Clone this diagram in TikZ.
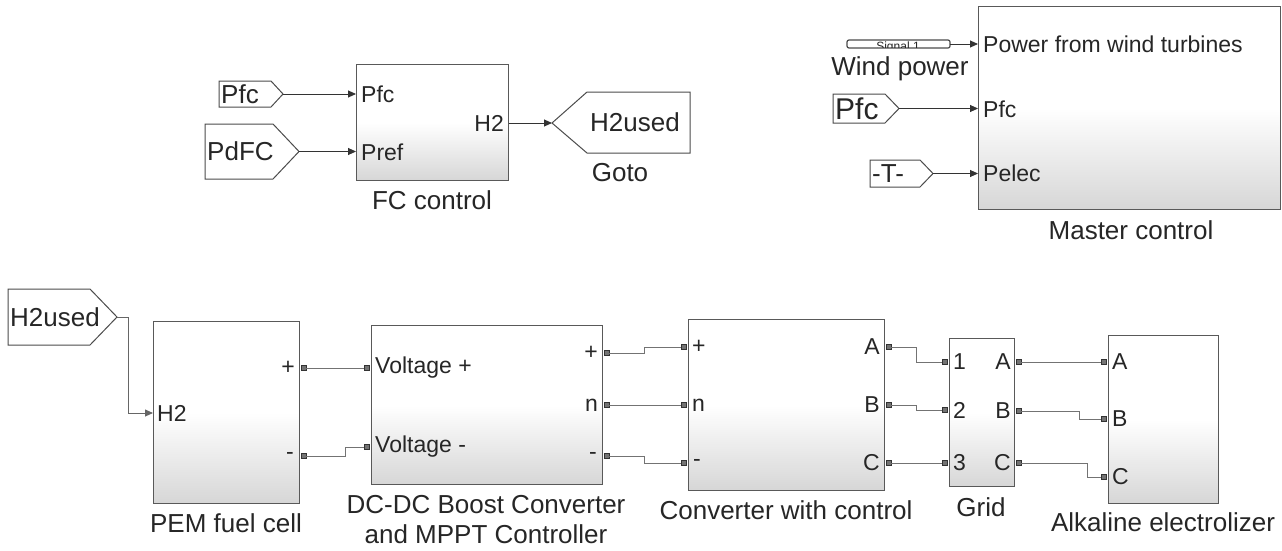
\documentclass[tikz,border=0pt]{standalone}
\usepackage{fontspec}
\setmainfont{Liberation Sans}
\usetikzlibrary{arrows.meta,calc}
\newcommand\fs[1]{\fontsize{#1}{#1}\selectfont}
% right-pointing tag: name, x1, y1, x2(tip), y2, depth, text, fontsize
\newcommand\rtag[8]{%
  \draw[tagline] (#2,#3) -- ({#4-#6},#3) -- (#4,{(#3+#5)/2}) -- ({#4-#6},#5) -- (#2,#5) -- cycle;
  \coordinate (#1) at (#4,{(#3+#5)/2});
  \node[txt,anchor=west,font=\fs{#8}] (#1t) at ({#2+1},{(#3+#5)/2}) {#7};
}
\tikzset{
  x=1pt, y=-1pt,
  txt/.style={inner sep=1pt, text=black!85},
  blk/.style={draw=black!65, line width=1.4pt, top color=white, bottom color=black!16,
              middle color=white, inner sep=0pt, anchor=north west},
  tagline/.style={draw=black!70, line width=1pt, fill=white},
  plbl/.style={txt, font=\fs{23}},
  nm/.style={txt, font=\fs{26}},
  sigline/.style={draw=black!80, line width=0.9pt, -{Triangle[length=8pt,width=7pt]}},
  phys/.style={draw=black!55, line width=1pt},
  port/.style={draw=black!80, fill=black!55, line width=0.8pt, minimum size=5pt, inner sep=0pt, rectangle},
}
\begin{document}
\begin{tikzpicture}
\useasboundingbox (0,0) rectangle (1282,550);
\fill[white] (0,0) rectangle (1282,550);

% ---------------- FC control ----------------
\node[blk, minimum width=152pt, minimum height=116pt] (fc) at (356,64) {};
\node[plbl,anchor=west] (fcpfc) at (360,94) {Pfc};
\node[plbl,anchor=west] (fcpref) at (360,152) {Pref};
\node[plbl,anchor=east] (fch2) at (505,123) {H2};
\node[nm] (fcname) at (432,200) {FC control};

\rtag{tpfc}{219}{81}{283}{107}{12}{Pfc}{26}
\rtag{tpdfc}{205}{124}{299}{179}{26}{PdFC}{26}

% Goto (left pointing)
\draw[tagline] (552,123) -- (587,92) -- (690,92) -- (690,153) -- (587,153) -- cycle;
\coordinate (goto) at (552,123);
\node[txt,anchor=west,font=\fs{26}] (gototxt) at (589,122) {H2used};
\node[nm] (gotoname) at (620,173) {Goto};

\draw[sigline] (tpfc) -- (fc.west |- tpfc);
\draw[sigline] (tpdfc) -- (fc.west |- tpdfc);
\draw[sigline] (fc.east |- goto) -- (goto);

% ---------------- Master control ----------------
\node[blk, minimum width=302pt, minimum height=203pt] (mc) at (978,6) {};
\node[plbl,anchor=west] (mcw) at (982,44) {Power from wind turbines};
\node[plbl,anchor=west] (mcpfc) at (982,109) {Pfc};
\node[plbl,anchor=west] (mcpel) at (982,173) {Pelec};
\node[nm] (mcname) at (1131,230) {Master control};

% squashed signal builder block
\draw[draw=black!70, line width=1.2pt, fill=white, rounded corners=2pt] (847,40) rectangle (950,48);
\begin{scope}
  \clip (849,41) rectangle (948,47);
  \node[inner sep=0pt, text=black!85, font=\fs{12}] (sigtxt) at (898,44)
    {\smash{\raisebox{-6pt}{\underline{Signal 1}}}};
\end{scope}
\coordinate (sigout) at (950,44);
\node[nm] (windname) at (900,69) {Wind power};

\rtag{tpfc2}{833}{94}{899}{123}{14}{Pfc}{30}
\rtag{tT}{870}{160}{933}{187}{13}{-T-}{26}

\draw[sigline] (sigout) -- (mc.west |- sigout);
\draw[sigline] (tpfc2) -- (mc.west |- tpfc2);
\draw[sigline] (tT) -- (mc.west |- tT);

% ---------------- bottom row ----------------
\rtag{th2}{8}{289}{117}{345}{27}{H2used}{26}

\node[blk, minimum width=146pt, minimum height=182pt] (pem) at (153,321) {};
\node[plbl,anchor=west] (pemh2) at (156,413) {H2};
\node[plbl,anchor=east] (pemplus) at (296,368) {+};
\node[plbl,anchor=east] (pemminus) at (295,456) {-};
\node[nm] (pemname) at (226,523) {PEM fuel cell};

\node[blk, minimum width=231pt, minimum height=159pt] (dc) at (371,325) {};
\node[plbl,anchor=west] (dcvp) at (374,368) {Voltage +};
\node[plbl,anchor=west] (dcvn) at (374,447) {Voltage -};
\node[plbl,anchor=east] (dcop) at (599,353) {+};
\node[plbl,anchor=east] (dcon) at (599,405) {n};
\node[plbl,anchor=east] (dcom) at (598,456) {-};
\node[nm] (dcname1) at (486,505) {DC-DC Boost Converter};
\node[nm] (dcname2) at (486,534) {and MPPT Controller};

\node[blk, minimum width=196pt, minimum height=171pt] (cv) at (688,319) {};
\node[plbl,anchor=west] (cvip) at (691,347) {+};
\node[plbl,anchor=west] (cvin) at (691,405) {n};
\node[plbl,anchor=west] (cvim) at (692,463) {-};
\node[plbl,anchor=east] (cva) at (881,347) {A};
\node[plbl,anchor=east] (cvb) at (881,405) {B};
\node[plbl,anchor=east] (cvc) at (881,463) {C};
\node[nm] (cvname) at (786,510) {Converter with control};

\node[blk, minimum width=65pt, minimum height=148pt] (gr) at (949,338) {};
\node[plbl,anchor=west] (gr1) at (952,362) {1};
\node[plbl,anchor=west] (gr2) at (952,410) {2};
\node[plbl,anchor=west] (gr3) at (952,463) {3};
\node[plbl,anchor=east] (gra) at (1012,362) {A};
\node[plbl,anchor=east] (grb) at (1012,411) {B};
\node[plbl,anchor=east] (grc) at (1012,463) {C};
\node[nm] (grname) at (981,507) {Grid};

\node[blk, minimum width=110pt, minimum height=168pt] (el) at (1108,335) {};
\node[plbl,anchor=west] (ela) at (1111,362) {A};
\node[plbl,anchor=west] (elb) at (1111,419) {B};
\node[plbl,anchor=west] (elc) at (1111,477) {C};
\node[nm] (elname) at (1163,522) {Alkaline electrolizer};

% H2used -> PEM
\draw[sigline, draw=black!60] (th2) -- ++(11,0) |- (pem.west |- pemh2);

% physical ports
\node[port] (pP) at (303.5,368) {};
\node[port] (pN) at (303.5,456) {};
\node[port] (dVP) at (366.5,368) {};
\node[port] (dVN) at (366.5,447) {};
\node[port] (dP) at (606.5,353) {};
\node[port] (dN) at (606.5,405) {};
\node[port] (dM) at (606.5,456) {};
\node[port] (cIP) at (683.5,347) {};
\node[port] (cIN) at (683.5,405) {};
\node[port] (cIM) at (683.5,463) {};
\node[port] (cA) at (888.5,347) {};
\node[port] (cB) at (888.5,405) {};
\node[port] (cC) at (888.5,463) {};
\node[port] (g1) at (944.5,362) {};
\node[port] (g2) at (944.5,410) {};
\node[port] (g3) at (944.5,463) {};
\node[port] (gA) at (1018.5,362) {};
\node[port] (gB) at (1018.5,411) {};
\node[port] (gC) at (1018.5,463) {};
\node[port] (eA) at (1103.5,362) {};
\node[port] (eB) at (1103.5,419) {};
\node[port] (eC) at (1103.5,477) {};

% physical connections
\draw[phys] (pP) -- (dVP);
\draw[phys] (pN) -- ($(pN)+(42,0)$) |- (dVN);
\draw[phys] (dP) -- ($(dP)+(38,0)$) |- (cIP);
\draw[phys] (dN) -- (cIN);
\draw[phys] (dM) -- ($(dM)+(38,0)$) |- (cIM);
\draw[phys] (cA) -- ($(cA)+(28,0)$) |- (g1);
\draw[phys] (cB) -- ($(cB)+(28,0)$) |- (g2);
\draw[phys] (cC) -- (g3);
\draw[phys] (gA) -- (eA);
\draw[phys] (gB) -- ($(gB)+(61,0)$) |- (eB);
\draw[phys] (gC) -- ($(gC)+(69,0)$) |- (eC);
\end{tikzpicture}
\end{document}
